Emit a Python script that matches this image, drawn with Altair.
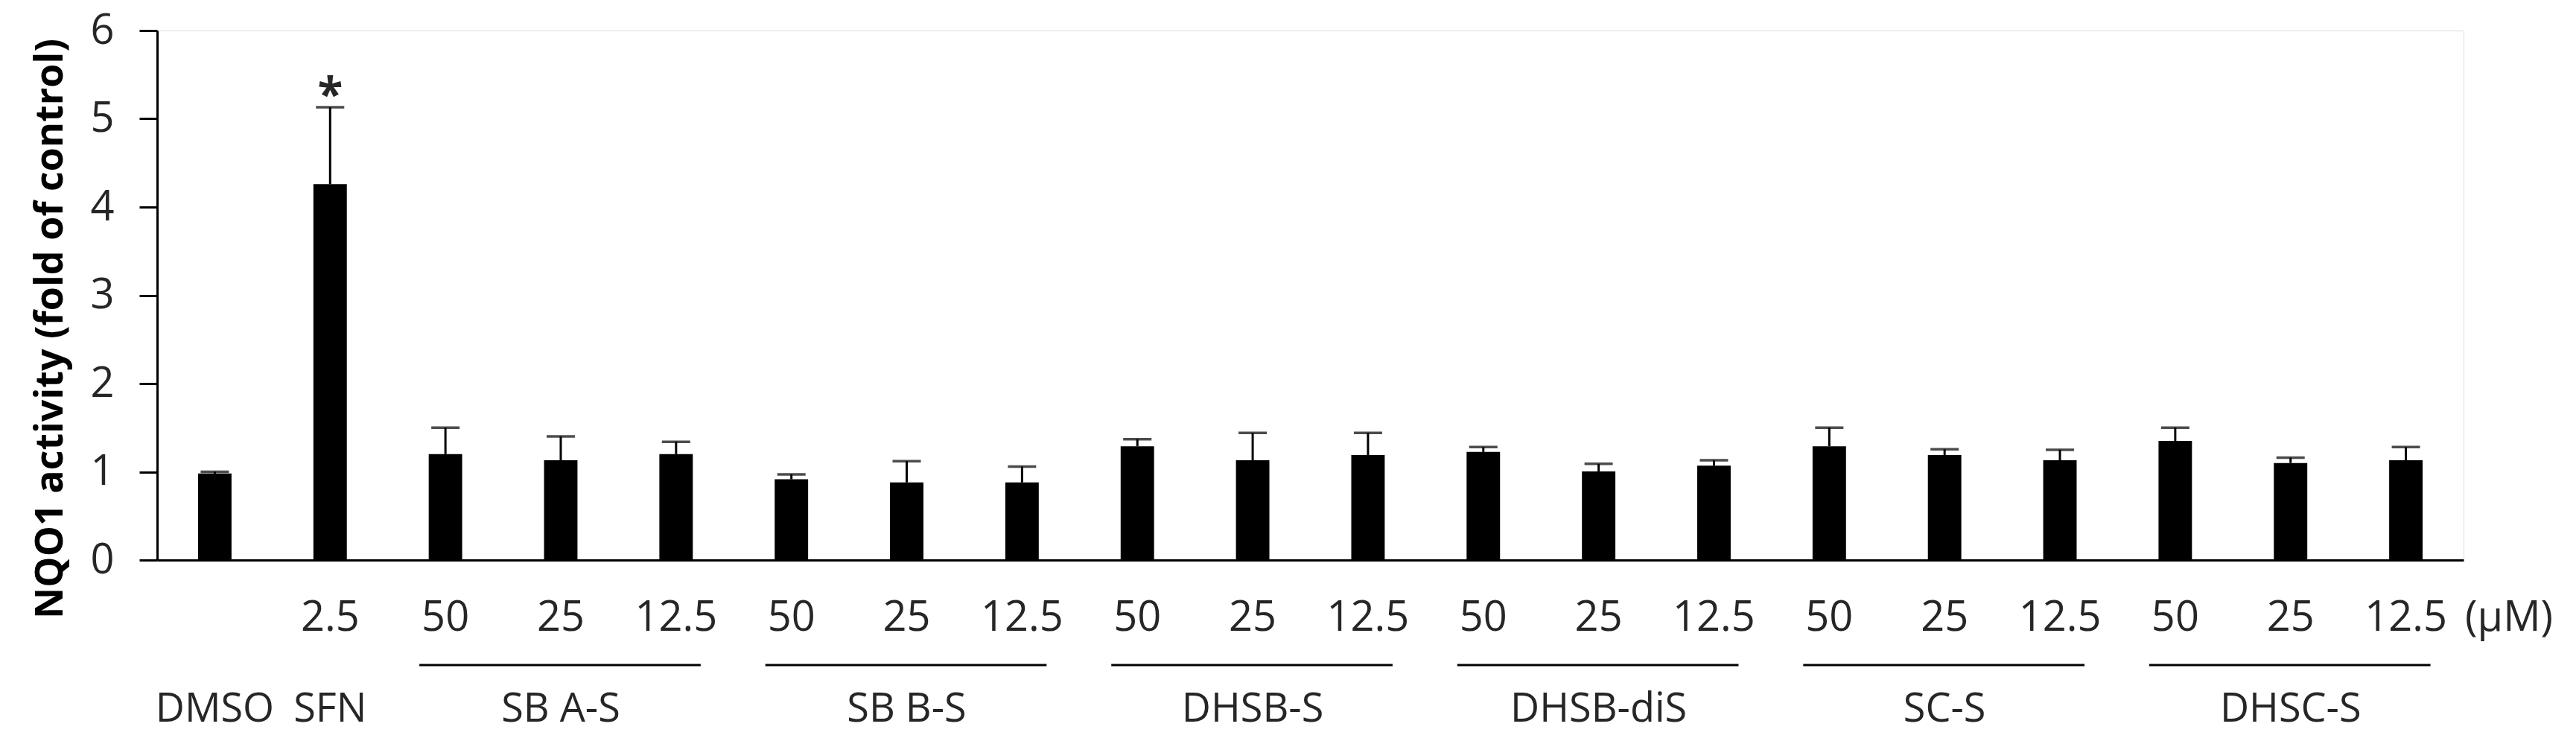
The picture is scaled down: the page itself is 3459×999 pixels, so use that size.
import altair as alt
import pandas as pd

# ---- data ----
categories = [
    "DMSO", "SFN 2.5",
    "SB A-S 50", "SB A-S 25", "SB A-S 12.5",
    "SB B-S 50", "SB B-S 25", "SB B-S 12.5",
    "DHSB-S 50", "DHSB-S 25", "DHSB-S 12.5",
    "DHSB-diS 50", "DHSB-diS 25", "DHSB-diS 12.5",
    "SC-S 50", "SC-S 25", "SC-S 12.5",
    "DHSC-S 50", "DHSC-S 25", "DHSC-S 12.5",
]
dose_labels = ["", "2.5",
               "50", "25", "12.5", "50", "25", "12.5", "50", "25", "12.5",
               "50", "25", "12.5", "50", "25", "12.5", "50", "25", "12.5"]
means = [0.98, 4.26,
         1.20, 1.13, 1.20,
         0.915, 0.88, 0.88,
         1.29, 1.13, 1.19,
         1.225, 1.005, 1.07,
         1.29, 1.19, 1.13,
         1.35, 1.10, 1.13]
errors = [0.02, 0.87,
          0.30, 0.27, 0.14,
          0.055, 0.24, 0.18,
          0.08, 0.31, 0.25,
          0.055, 0.085, 0.06,
          0.21, 0.065, 0.12,
          0.15, 0.06, 0.15]
significance = ["", "*"] + [""] * 18

group_names = ["DMSO", "SFN", "SB A-S", "SB B-S", "DHSB-S", "DHSB-diS", "SC-S", "DHSC-S"]
group_label_cat = ["DMSO", "SFN 2.5", "SB A-S 25", "SB B-S 25", "DHSB-S 25",
                   "DHSB-diS 25", "SC-S 25", "DHSC-S 25"]
line_groups = ["SB A-S", "SB B-S", "DHSB-S", "DHSB-diS", "SC-S", "DHSC-S"]
line_start = ["SB A-S 50", "SB B-S 50", "DHSB-S 50", "DHSB-diS 50", "SC-S 50", "DHSC-S 50"]
line_end = ["SB A-S 12.5", "SB B-S 12.5", "DHSB-S 12.5", "DHSB-diS 12.5", "SC-S 12.5", "DHSC-S 12.5"]
unit_label = ["(μM)"]
y_ticks = [0, 1, 2, 3, 4, 5, 6]

y_title = "NQO1 activity (fold of control)"

# ---- tables ----
bars_df = pd.DataFrame({
    "cat": categories, "dose": dose_labels, "mean": means, "err": errors,
    "sig": significance,
})
bars_df["top"] = bars_df["mean"] + bars_df["err"]
groups_df = pd.DataFrame({"group": group_names, "cat": group_label_cat})
lines_df = pd.DataFrame({"group": line_groups, "start": line_start, "end": line_end})
unit_df = pd.DataFrame({"unit": unit_label})

FONT = "Open Sans"
TXT = "#262626"
W, H = 3097, 711

xscale = alt.Scale(domain=categories, paddingInner=0.71, paddingOuter=0.355)
x_enc = alt.X("cat:N", scale=xscale, sort=categories,
              axis=alt.Axis(labels=False, ticks=False, title=None,
                            domainColor="black", domainWidth=3))
yscale = alt.Scale(domain=[0, 6], nice=False)

base = alt.Chart(bars_df)

bars = base.mark_bar(color="black").encode(
    x=x_enc,
    y=alt.Y("mean:Q", scale=yscale,
            axis=alt.Axis(values=y_ticks, format="d", grid=False,
                          tickSize=24, tickWidth=3, tickColor="black",
                          domainColor="black", domainWidth=3,
                          labelFont=FONT, labelFontSize=56, labelColor=TXT,
                          labelPadding=34,
                          title=y_title, titleFont=FONT, titleFontSize=52,
                          titleFontWeight="bold", titleColor="black",
                          titleAngle=270, titleX=-128, titleY=400,
                          titleBaseline="alphabetic", titleAlign="center")),
)

err_rule = base.mark_rule(color="black", strokeWidth=3).encode(
    x=alt.X("cat:N", scale=xscale, sort=categories),
    y=alt.Y("mean:Q", scale=yscale),
    y2="top:Q",
)
err_cap = base.mark_tick(color="black", thickness=3.5, size=38).encode(
    x=alt.X("cat:N", scale=xscale, sort=categories),
    y=alt.Y("top:Q", scale=yscale),
)
stars = base.mark_text(font=FONT, fontSize=62, fontWeight="bold", color=TXT,
                       baseline="middle", dy=-14).encode(
    x=alt.X("cat:N", scale=xscale, sort=categories),
    y=alt.Y("top:Q", scale=yscale),
    text="sig:N",
)
dose_text = base.mark_text(font=FONT, fontSize=56, color=TXT, baseline="middle").encode(
    x=alt.X("cat:N", scale=xscale, sort=categories),
    y=alt.value(789),
    text="dose:N",
)
group_text = alt.Chart(groups_df).mark_text(font=FONT, fontSize=54, color=TXT,
                                            baseline="middle").encode(
    x=alt.X("cat:N", scale=xscale, sort=categories),
    y=alt.value(912),
    text="group:N",
)
underline = alt.Chart(lines_df).mark_rule(color="black", strokeWidth=3,
                                          xOffset=-35, x2Offset=33).encode(
    x=alt.X("start:N", scale=xscale, sort=categories),
    x2="end:N",
    y=alt.value(852),
)
unit_text = alt.Chart(unit_df).mark_text(font=FONT, fontSize=56, color=TXT,
                                         align="left", baseline="middle", dx=2).encode(
    x=alt.value(W),
    y=alt.value(789),
    text="unit:N",
)

chart = alt.layer(
    bars, err_rule, err_cap, stars, dose_text, group_text, underline, unit_text
).properties(
    width=W, height=H,
    padding={"left": 203, "top": 33, "right": 140, "bottom": 245},
    autosize=alt.AutoSizeParams(type="none"),
).configure_view(stroke=None).configure(background="white")

chart.save("out.html", embed_options={"renderer": "svg", "actions": False})
